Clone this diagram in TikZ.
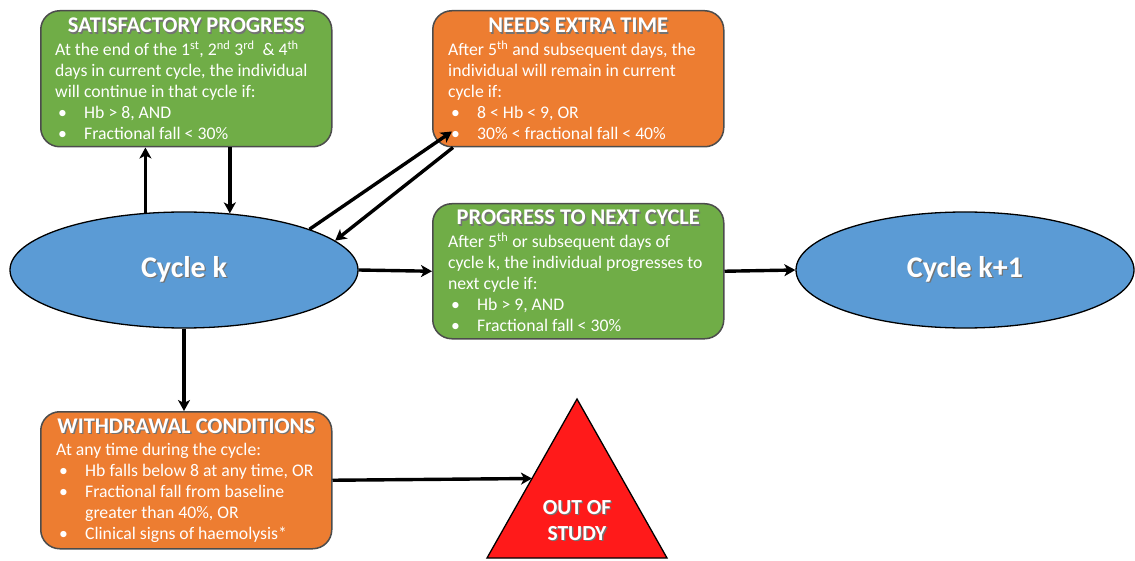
\documentclass[tikz,border=0pt]{standalone}
\usepackage{fontspec}
\setmainfont{Carlito}
\usetikzlibrary{arrows.meta,shapes.geometric,calc}
\definecolor{gfill}{HTML}{70AD47}
\definecolor{ofill}{HTML}{ED7D31}
\definecolor{bfill}{HTML}{5B9BD5}
\definecolor{rfill}{HTML}{FF1A1A}
\newcommand\shtxt[1]{\rlap{\kern1.3pt\raisebox{-1.3pt}{\textcolor{black!55}{#1}}}#1}
\newcommand\bitem[1]{\makebox[29pt][l]{\hspace{3pt}\textbullet}#1}
\begin{document}
\begin{tikzpicture}[x=1pt,y=-1pt]
\tikzset{
 box/.style={draw=black!70, line width=1.5pt, rounded corners=19pt, inner sep=0, anchor=north west, minimum width=291pt, minimum height=136pt},
 ttl/.style={anchor=base, inner sep=0, text=white, font=\fontsize{22.4}{24}\selectfont\bfseries},
 body/.style={anchor=base west, inner sep=0, text=white, font=\fontsize{17.7}{21}\selectfont},
 cyc/.style={ellipse, draw=black, line width=1.3pt, fill=bfill, inner sep=0, text=white, font=\fontsize{30}{32}\selectfont\bfseries},
 arr/.style={line width=3.4pt, -{Stealth[length=11pt,width=12pt,inset=3pt]}},
 tri/.style={anchor=base, inner sep=0, text=white, font=\fontsize{21.5}{23}\selectfont\bfseries},
}
\useasboundingbox (0,0) rectangle (1135,561);

% boxes
\node[box, fill=gfill] (sat) at (40,10) {};
\node[box, fill=ofill] (nee) at (432,10) {};
\node[box, fill=gfill, minimum height=135pt] (prog) at (432,203) {};
\node[box, fill=ofill, minimum height=137pt] (wd) at (40,411) {};

% titles
\node[ttl] (satT) at ($(sat.north)+(0,23)$) {\shtxt{SATISFACTORY PROGRESS}};
\node[ttl] (neeT) at ($(nee.north)+(0,23)$) {\shtxt{NEEDS EXTRA TIME}};
\node[ttl] (progT) at ($(prog.north)+(0,22)$) {\shtxt{PROGRESS TO NEXT CYCLE}};
\node[ttl] (wdT) at ($(wd.north)+(0,22)$) {\shtxt{WITHDRAWAL CONDITIONS}};

% bodies
\node[body] (satB) at ($(sat.north west)+(15,46)$) {\parbox[t]{280pt}{At the end of the 1\textsuperscript{st}, 2\textsuperscript{nd} 3\textsuperscript{rd}\ \ \& 4\textsuperscript{th}\\
days in current cycle, the individual\\
will continue in that cycle if:\\
\bitem{Hb > 8, AND}\\
\bitem{Fractional fall < 30\%}}};
\node[body] (neeB) at ($(nee.north west)+(16,46)$) {\parbox[t]{280pt}{After 5\textsuperscript{th} and subsequent days, the\\
individual will remain in current\\
cycle if:\\
\bitem{8 < Hb < 9, OR}\\
\bitem{30\% < fractional fall < 40\%}}};
\node[body] (progB) at ($(prog.north west)+(16,45)$) {\parbox[t]{280pt}{After 5\textsuperscript{th} or subsequent days of\\
cycle k, the individual progresses to\\
next cycle if:\\
\bitem{Hb > 9, AND}\\
\bitem{Fractional fall < 30\%}}};
\node[body] (wdB) at ($(wd.north west)+(16,44)$) {\parbox[t]{280pt}{At any time during the cycle:\\
\bitem{Hb falls below 8 at any time, OR}\\
\bitem{Fractional fall from baseline}\\
\hspace*{29pt}greater than 40\%, OR\\
\bitem{Clinical signs of haemolysis*}}};

% ellipses
\node[cyc, minimum width=348pt, minimum height=116pt] (ck) at (184,270) {\shtxt{Cycle k}};
\node[cyc, minimum width=338pt, minimum height=116pt] (ck1) at (965,270) {\shtxt{Cycle k+1}};

% triangle
\coordinate (apex) at (577,399);
\coordinate (bl) at (487,558);
\coordinate (br) at (667,558);
\draw[fill=rfill, line width=1.3pt, line join=miter] (apex) -- (bl) -- (br) -- cycle;
\coordinate (tin) at ($(apex)!0.5!(bl)$);
\node[tri] (oos1) at (577,514) {\shtxt{OUT OF}};
\node[tri] (oos2) at (577,540) {\shtxt{STUDY}};

% connectors
\draw[arr] (ck.124.6) -- (ck.124.6 |- sat.south);
\draw[arr] (sat.south -| ck.51.9) -- (ck.51.9);
\draw[arr] (ck.18.9) -- ($(nee.south west)+(20,-16)$);
\draw[arr] ($(nee.south west)+(21,0)$) -- (ck.11.1);
\draw[arr] (ck.east) -- (prog.west);
\draw[arr] (prog.east) -- (ck1.west);
\draw[arr] (ck.south) -- (ck.south |- wd.north);
\draw[arr] (wd.east) -- (tin);
\end{tikzpicture}
\end{document}
